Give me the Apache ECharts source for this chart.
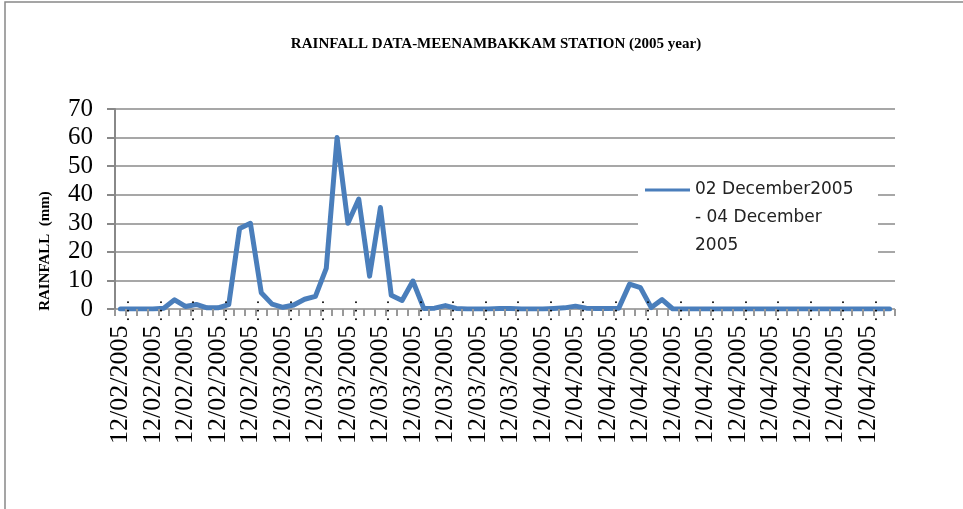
<!DOCTYPE html>
<html>
<head>
<meta charset="utf-8">
<title>Rainfall Meenambakkam</title>
<script src="https://cdn.jsdelivr.net/npm/echarts@6/dist/echarts.min.js"></script>
<style>
  html, body { margin: 0; padding: 0; background: #fff; }
  #chart { width: 963px; height: 509px; }
</style>
</head>
<body>
<div id="chart"></div>
<script>
// dates shown under the axis (times are cut off by the label width in the original)
var days = ['12/02/2005', '12/03/2005', '12/04/2005'];
var dayCounts = [14, 24, 34];

// rainfall (mm), one reading per category
var rainfall = [
    0, 0, 0, 0, 0.3, 3.2, 0.9, 1.6, 0.4, 0.4,
    1.5, 28.2, 30, 5.7, 1.7, 0.6, 1.4, 3.4, 4.4, 14.2,
    60, 30, 38.5, 11.5, 35.5, 4.8, 3, 9.8, 0.2, 0.3,
    1.2, 0.2, 0, 0, 0, 0.2, 0.2, 0, 0, 0,
    0.2, 0.4, 1, 0.3, 0.2, 0.2, 0.3, 8.7, 7.5, 0.5,
    3.3, 0, 0, 0, 0, 0, 0, 0, 0, 0,
    0, 0, 0, 0, 0, 0, 0, 0, 0, 0,
    0, 0
];

var seriesName = '02 December2005 - 04 December 2005';
// two blank lines on top so the legend line sits next to the first text line
var legendText = ' \n \n02 December2005\n- 04 December\n2005';

var categories = [];
for (var d = 0; d < days.length; d++) {
    for (var k = 0; k < dayCounts[d]; k++) {
        categories.push(days[d]);
    }
}

var chart = echarts.init(document.getElementById('chart'));

var option = {
    backgroundColor: '#fff',
    animation: false,
    title: {
        text: 'RAINFALL DATA-MEENAMBAKKAM STATION (2005 year)',
        left: 496,
        top: 37,
        padding: 0,
        textAlign: 'center',
        textStyle: {
            fontFamily: 'Liberation Serif',
            fontSize: 15,
            fontWeight: 'bold',
            color: '#000'
        }
    },
    legend: {
        left: 645,
        top: 120,
        padding: 0,
        itemWidth: 45,
        itemHeight: 3,
        data: [{ name: seriesName, icon: 'rect' }],
        formatter: function () {
            return legendText;
        },
        textStyle: {
            fontFamily: 'DejaVu Sans',
            fontSize: 17,
            color: '#222',
            lineHeight: 28
        }
    },
    grid: {
        left: 115,
        right: 68,
        top: 109,
        bottom: 200,
        containLabel: false,
        outerBoundsMode: 'none'
    },
    xAxis: {
        type: 'category',
        data: categories,
        boundaryGap: true,
        zlevel: 1,
        axisLine: { show: false },
        axisTick: {
            show: true,
            interval: 0,
            length: 7,
            lineStyle: { color: '#999', width: 2 }
        },
        axisLabel: {
            interval: 2,
            rotate: 90,
            margin: -9,
            formatter: function (v) {
                return '{d|' + v + '}{e| . . .}';
            },
            rich: {
                d: { fontFamily: 'Liberation Serif', fontSize: 26, color: '#000' },
                e: { fontFamily: 'Liberation Serif', fontSize: 17, color: '#000', verticalAlign: 'bottom' }
            }
        },
        splitLine: { show: false }
    },
    yAxis: {
        type: 'value',
        min: 0,
        max: 70,
        interval: 10,
        axisLine: { show: true, lineStyle: { color: '#888', width: 2 } },
        axisTick: { show: true, length: 8, lineStyle: { color: '#888', width: 2 } },
        axisLabel: {
            margin: 22,
            fontFamily: 'Liberation Serif',
            fontSize: 25,
            color: '#000'
        },
        splitLine: { lineStyle: { color: '#8a8a8a', width: 1.5 } }
    },
    graphic: [
        {
            type: 'rect',
            shape: { x: 5, y: 2, width: 1000, height: 600 },
            style: { fill: 'none', stroke: '#888', lineWidth: 1.5 },
            silent: true
        },
        {
            type: 'rect',
            z: 1,
            shape: { x: 638, y: 176, width: 240, height: 88 },
            style: { fill: '#fff' },
            silent: true
        },
        {
            type: 'text',
            x: 45,
            y: 251,
            rotation: Math.PI / 2,
            style: {
                text: 'RAINFALL  (mm)',
                fontFamily: 'Liberation Serif',
                fontSize: 15,
                fontWeight: 'bold',
                fill: '#000',
                align: 'center',
                verticalAlign: 'middle'
            }
        }
    ],
    series: [
        {
            name: seriesName,
            type: 'line',
            data: rainfall,
            showSymbol: false,
            symbol: 'none',
            z: 3,
            lineStyle: { color: '#4a7ebb', width: 5, cap: 'round', join: 'round' },
            itemStyle: { color: '#4a7ebb' }
        }
    ]
};

chart.setOption(option);
</script>
</body>
</html>
